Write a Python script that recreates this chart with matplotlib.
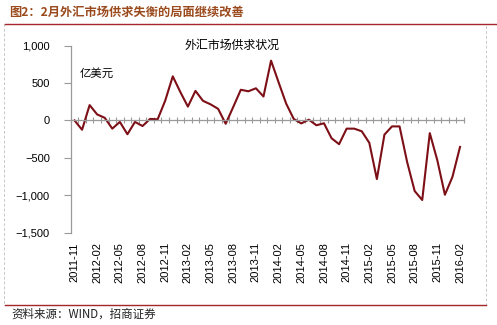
import numpy as np
import pandas as pd
from matplotlib import pyplot as plt
from matplotlib.patches import Rectangle
from matplotlib.lines import Line2D
from matplotlib.ticker import FuncFormatter, FixedLocator

plt.rcParams['font.family'] = ['Liberation Sans', 'Noto Sans CJK SC', 'DejaVu Sans']
CJK = ['Noto Sans CJK SC', 'DejaVu Sans']

# monthly net FX settlement, 100 million USD
months = pd.period_range('2011-11', '2016-02', freq='M').strftime('%Y-%m').tolist()
values = [0, -125, 205, 80, 35, -110, -20, -185, -20, -75,
          20, 15, 265, 590, 380, 185, 395, 262, 215, 155,
          -45, 180, 410, 390, 430, 320, 800, 510, 225, 20,
          -40, 10, -65, -38, -238, -318, -110, -110, -145, -300,
          -785, -190, -80, -80, -555, -945, -1065, -170, -535, -995,
          -755, -355]

title = '图2：2月外汇市场供求失衡的局面继续改善'
chart_title = '外汇市场供求状况'
unit = '亿美元'
source = '资料来源：WIND，招商证券'

fig = plt.figure(figsize=(4.97, 3.25), dpi=100)

# header, rules and dashed frame
fig.text(0.018, 0.963, title, fontsize=8.8, color='#9a4a1c', fontweight='bold',
         family=CJK, va='center')
fig.add_artist(Line2D([0.01, 1.0], [0.925, 0.925], color='#a3272d', lw=1.0))
fig.add_artist(Line2D([0.01, 0.978], [0.062, 0.062], color='#a3272d', lw=1.0))
fig.add_artist(Rectangle((0.009, 0.062), 0.969, 0.863, fill=False,
                         ec='#c8c8c8', lw=0.7, ls=(0, (3, 2))))
fig.text(0.022, 0.034, source, fontsize=8.3, color='#222222', va='center', family=CJK)

ax = fig.add_axes([0.1423, 0.2846, 0.7909, 0.5748])
x = np.arange(len(months))
ax.plot(x, values, color='#7d0f17', lw=1.5)

ax.set_xlim(-0.5, len(months) - 0.5)
ax.set_ylim(-1500, 1000)
ax.set_yticks(np.arange(-1500, 1001, 500))
ax.yaxis.set_major_formatter(FuncFormatter(lambda v, p: f'{v:,.0f}'.replace('-', '\u2212')))

# category ticks sit between months on the zero line
ax.spines['bottom'].set_position(('data', 0))
ax.xaxis.set_major_locator(FixedLocator(np.arange(-0.5, len(months), 1)))
ax.xaxis.set_major_formatter(FuncFormatter(lambda v, p: ''))
ax.tick_params(axis='x', which='major', direction='inout', length=5, width=0.8,
               color='#9a9a9a')

# month labels every quarter, below the plot area
for i in range(0, len(months), 3):
    ax.annotate(months[i], xy=(i, 0), xycoords=('data', 'axes fraction'),
                xytext=(0, -7), textcoords='offset points', rotation=90,
                ha='center', va='top', fontsize=8)

ax.tick_params(axis='y', direction='out', length=5, width=0.8, color='#9a9a9a',
               labelsize=8, pad=10)
for side in ['top', 'right']:
    ax.spines[side].set_visible(False)
for side in ['left', 'bottom']:
    ax.spines[side].set_color('#9a9a9a')
    ax.spines[side].set_linewidth(0.9)

fig.text(0.372, 0.862, chart_title, fontsize=8.6, va='center', family=CJK)
fig.text(0.161, 0.775, unit, fontsize=8.2, va='center', family=CJK)

fig.savefig('out.png', dpi=100)
